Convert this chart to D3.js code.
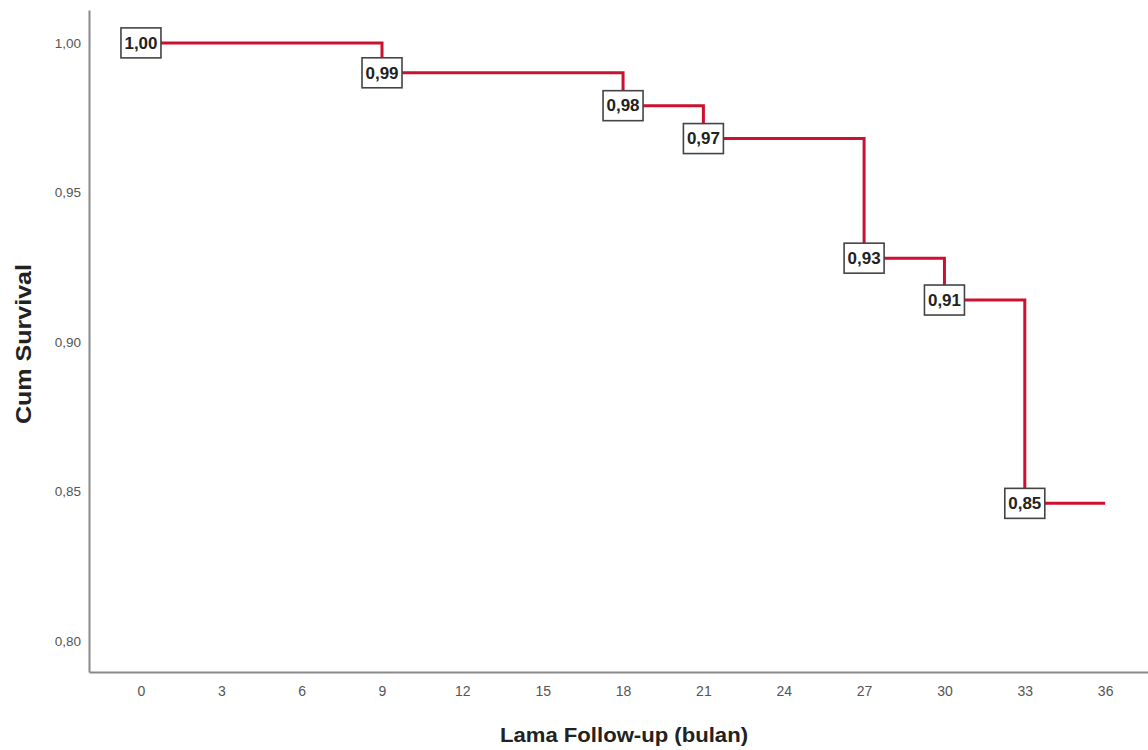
<!DOCTYPE html>
<html><head><meta charset="utf-8">
<script src="https://cdn.jsdelivr.net/npm/d3@7"></script>
<style>body{margin:0;background:#fff}svg{display:block}</style>
</head><body>
<svg id="c" width="1148" height="750"></svg>
<script>
// Data
const stepTimes = [0, 9, 18, 21, 27, 30, 33];
const survival  = [1.000, 0.990, 0.979, 0.968, 0.928, 0.914, 0.846];
const endTime = 36;
const labels = ["1,00","0,99","0,98","0,97","0,93","0,91","0,85"];
const xTicks = [0,3,6,9,12,15,18,21,24,27,30,33,36];
const yTicks = [0.80,0.85,0.90,0.95,1.00];

const FONT = "Liberation Sans, Arial, sans-serif";
const svg = d3.select("#c");
const x = d3.scaleLinear().domain([-1.94, 37.6]).range([89, 1148]);
const y = d3.scaleLinear().domain([0.7896, 1.011]).range([672, 10]);
const loc = d3.formatLocale({decimal:",",thousands:".",grouping:[3],currency:["",""]});
const fmt = loc.format(".2f");

// Axes
const xa = svg.append("g").attr("transform","translate(0,672)")
  .call(d3.axisBottom(x).tickValues(xTicks).tickSize(0).tickPadding(14).tickFormat(d=>d));
const ya = svg.append("g").attr("transform","translate(89,0)")
  .call(d3.axisLeft(y).tickValues(yTicks).tickSize(0).tickPadding(8).tickFormat(fmt));
[xa,ya].forEach(g=>{
  g.select(".domain").attr("stroke","#8a8a8a").attr("stroke-width",2);
  g.selectAll("text").attr("font-family",FONT).attr("fill","#555");
});
xa.selectAll("text").attr("font-size",14);
ya.selectAll("text").attr("font-size",13.5);

// Titles
svg.append("text").attr("x",624).attr("y",742).attr("text-anchor","middle")
  .attr("font-family",FONT).attr("font-weight","bold")
  .attr("font-size",21).attr("textLength",248).attr("lengthAdjust","spacingAndGlyphs")
  .attr("fill","#222").text("Lama Follow-up (bulan)");
svg.append("text").attr("transform","translate(31,344) rotate(-90)").attr("text-anchor","middle")
  .attr("font-family",FONT).attr("font-weight","bold")
  .attr("font-size",22).attr("textLength",160).attr("lengthAdjust","spacingAndGlyphs")
  .attr("fill","#222").text("Cum Survival");

// Step curve
const pts = stepTimes.map((t,i)=>[t, survival[i]]);
pts.push([endTime, survival[survival.length-1]]);
const line = d3.line().x(d=>x(d[0])).y(d=>y(d[1])).curve(d3.curveStepAfter);
svg.append("path").datum(pts).attr("d",line).attr("fill","none")
  .attr("stroke","#cc1030").attr("stroke-width",3);

// Labels
const lg = svg.selectAll("g.lab").data(stepTimes).enter().append("g")
  .attr("transform",(d,i)=>`translate(${x(d)},${y(survival[i])})`);
lg.append("rect").attr("x",-20).attr("y",-15).attr("width",40).attr("height",30)
  .attr("fill","#fff").attr("stroke","#444").attr("stroke-width",1.6);
lg.append("text").attr("text-anchor","middle").attr("dy","0.36em")
  .attr("font-family",FONT).attr("font-weight","bold")
  .attr("font-size",16).attr("textLength",33).attr("lengthAdjust","spacingAndGlyphs")
  .attr("fill","#222").text((d,i)=>labels[i]);
</script>
</body></html>
